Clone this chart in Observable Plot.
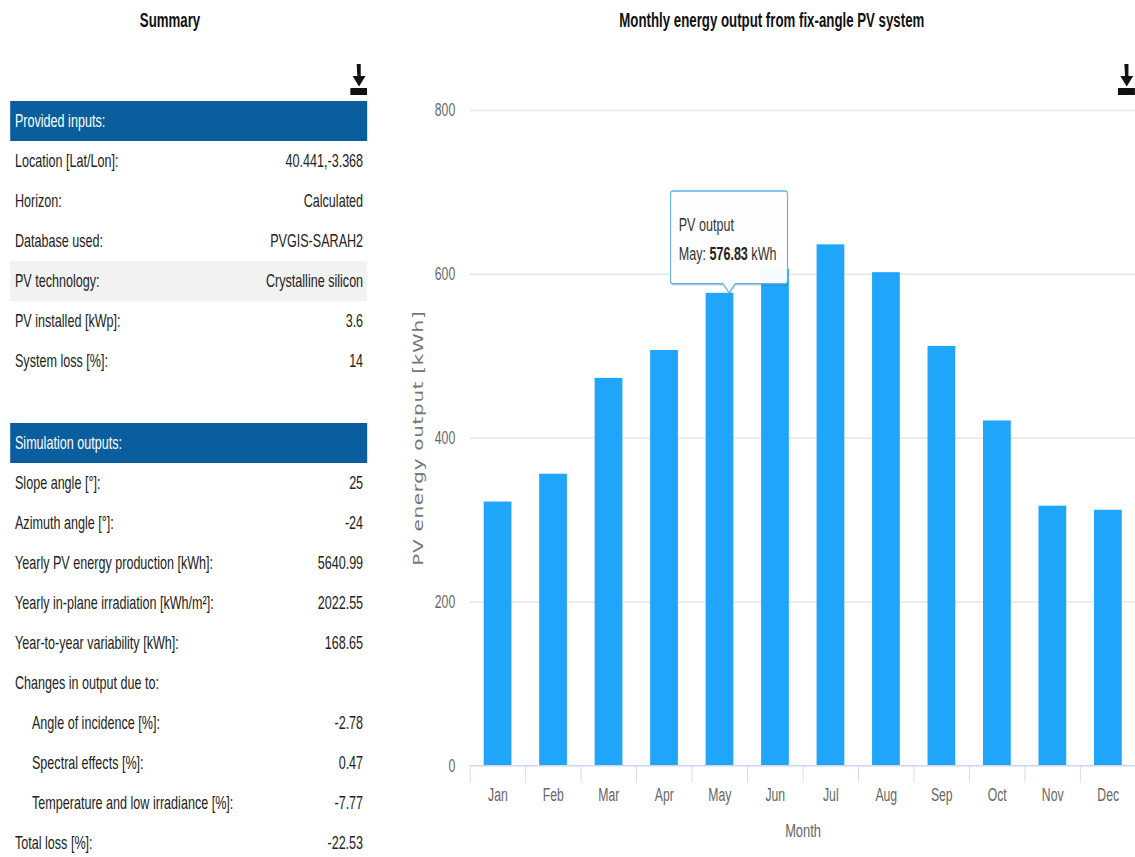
<!DOCTYPE html>
<html>
<head>
<meta charset="utf-8">
<script src="https://cdn.jsdelivr.net/npm/d3@7"></script>
<script src="https://cdn.jsdelivr.net/npm/@observablehq/plot@0.6"></script>
<style>
  html, body { margin: 0; padding: 0; background: #fff; overflow: hidden; }
  #outer { position: relative; width: 1135px; height: 857px; overflow: hidden; }
  #page { position: absolute; left: 0; top: 0; width: 1670px; height: 857px;
          transform: scaleX(0.68); transform-origin: 0 0;
          font-family: "Liberation Sans", Arial, sans-serif; color: #222; }
  .title { position: absolute; top: 9px; font-weight: bold; font-size: 19.5px; color: #111; text-align: center; }
  #summary { position: absolute; left: 15px; top: 101px; width: 525px; }
  .row { height: 40px; line-height: 40px; font-size: 18.5px; display: flex; justify-content: space-between;
         padding: 0 6px 0 7px; white-space: nowrap; }
  .row.head { background: #0a5e9e; color: #fff; }
  .row.shade { background: #f2f2f2; }
  .row.indent { padding-left: 32px; }
  .gap { height: 42px; }
  .icon { position: absolute; top: 62px; width: 25px; height: 34px; }
  #chart { position: absolute; left: 588px; top: 90px; }
</style>
</head>
<body>
<div id="outer"><div id="page">
  <div class="title" style="left:0;width:500px;">Summary</div>
  <div class="title" style="left:600px;width:1070px;">Monthly energy output from fix-angle PV system</div>
  <svg class="icon" style="left:515px" viewBox="0 0 25 34"><path d="M9.5 2h6v12h7l-9.5 10.5-9.5-10.5h7z" fill="#111"/><rect x="0" y="26" width="25" height="7" fill="#111"/></svg>
  <svg class="icon" style="left:1644px" viewBox="0 0 25 34"><path d="M9.5 2h6v12h7l-9.5 10.5-9.5-10.5h7z" fill="#111"/><rect x="0" y="26" width="25" height="7" fill="#111"/></svg>
  <div id="summary"></div>
  <div id="chart"></div>
</div></div>
<script>
// ---- Summary table data ----
const inputsHeader = "Provided inputs:";
const inputLabels = ["Location [Lat/Lon]:", "Horizon:", "Database used:", "PV technology:", "PV installed [kWp]:", "System loss [%]:"];
const inputValues = ["40.441,-3.368", "Calculated", "PVGIS-SARAH2", "Crystalline silicon", "3.6", "14"];
const outputsHeader = "Simulation outputs:";
const outputLabels = ["Slope angle [°]:", "Azimuth angle [°]:", "Yearly PV energy production [kWh]:",
  "Yearly in-plane irradiation [kWh/m²]:", "Year-to-year variability [kWh]:", "Changes in output due to:",
  "Angle of incidence [%]:", "Spectral effects [%]:", "Temperature and low irradiance [%]:", "Total loss [%]:"];
const outputValues = ["25", "-24", "5640.99", "2022.55", "168.65", "", "-2.78", "0.47", "-7.77", "-22.53"];
const outputIndented = [false, false, false, false, false, false, true, true, true, false];
const shadedInput = "PV technology:";

// ---- Chart data ----
const months = ["Jan", "Feb", "Mar", "Apr", "May", "Jun", "Jul", "Aug", "Sep", "Oct", "Nov", "Dec"];
const pvOutput = [322, 356, 473, 507, 576.83, 606, 636, 602, 512, 421, 317, 312];
const yTicks = [0, 200, 400, 600, 800];
const tipMonth = "May";
const tipSeries = "PV output";
const tipUnit = "kWh";

// ---- Build table ----
const summary = d3.select("#summary");
function addRow(label, value, cls) {
  const r = summary.append("div").attr("class", "row " + (cls || ""));
  r.append("span").text(label);
  r.append("span").text(value);
}
addRow(inputsHeader, "", "head");
inputLabels.forEach((l, i) => addRow(l, inputValues[i], l === shadedInput ? "shade" : ""));
summary.append("div").attr("class", "gap");
addRow(outputsHeader, "", "head");
outputLabels.forEach((l, i) => addRow(l, outputValues[i], outputIndented[i] ? "indent" : ""));

// ---- Build chart ----
const data = months.map((m, i) => ({index: i, month: m, value: pvOutput[i]}));
const bounds = d3.range(months.length + 1).map(i => i - 0.5);
const yLabel = "PV energy output [kWh]";

const chart = Plot.plot({
  width: 1083, height: 760,
  marginTop: 20, marginBottom: 84, marginLeft: 103, marginRight: 0,
  style: {fontFamily: '"Liberation Sans", Arial, sans-serif', overflow: "visible", background: "transparent"},
  x: {type: "linear", domain: [-0.5, months.length - 0.5]},
  y: {domain: [0, 800]},
  marks: [
    Plot.gridY({ticks: yTicks.slice(1), stroke: "#e6e6e6", strokeOpacity: 1, strokeWidth: 1.5}),
    Plot.rect(data, {x1: d => d.index - 0.25, x2: d => d.index + 0.25, y1: 0, y2: "value", fill: "#1fa5f9"}),
    Plot.ruleY([0], {stroke: "#ccd6eb", strokeWidth: 1.5}),
    Plot.axisX({ticks: bounds, tickSize: 17, tickFormat: () => "", stroke: "#ccd6eb", strokeOpacity: 1, label: null}),
    Plot.axisX({ticks: d3.range(months.length), tickFormat: i => months[i], tickSize: 0, tickPadding: 22,
                fontSize: 18, fill: "#666", label: "Month", labelAnchor: "center", labelOffset: 71, labelArrow: "none"}),
    Plot.axisY({ticks: yTicks, tickSize: 0, tickPadding: 22, fontSize: 18, fill: "#666", label: null}),
    Plot.axisY({ticks: [], label: yLabel, labelAnchor: "center", labelOffset: 84, labelArrow: "none",
                fontSize: 20, fontFamily: '"DejaVu Sans", sans-serif', fill: "#777"})
  ]
});
document.getElementById("chart").appendChild(chart);

// letter spacing on y label; size of Month label
d3.select(chart).selectAll("text").each(function() {
  if (this.textContent === yLabel) d3.select(this).attr("letter-spacing", "0.7");
  if (this.textContent === "Month") d3.select(this).attr("font-size", 19);
});

// ---- Tooltip callout at the hovered bar ----
const xs = chart.scale("x"), ys = chart.scale("y");
const ti = months.indexOf(tipMonth);
const tx = xs.apply(ti) + 14, ty = ys.apply(pvOutput[ti]);
const W = 172, H = 93, P = 9, hw = 9, r = 3;
const L = -W / 2, R = W / 2, T = -P - H, B = -P;
const g = d3.select(chart).append("g").attr("transform", `translate(${tx},${ty})`);
const pathD = `M${L + r},${T}H${R - r}Q${R},${T} ${R},${T + r}V${B - r}Q${R},${B} ${R - r},${B}H${hw}L0,0L${-hw},${B}H${L + r}Q${L},${B} ${L},${B - r}V${T + r}Q${L},${T} ${L + r},${T}Z`;
g.append("path").attr("d", pathD).attr("transform", "translate(1.5,2)").attr("fill", "rgba(0,0,0,0.12)");
g.append("path").attr("d", pathD).attr("fill", "rgba(255,255,255,0.96)").attr("stroke", "#5cb0ec").attr("stroke-width", 1.5);
const tt = g.append("g").attr("font-size", 18.5).attr("fill", "#333").attr("text-anchor", "start")
  .attr("font-family", '"Liberation Sans", Arial, sans-serif');
tt.append("text").attr("x", L + 12).attr("y", -62).text(tipSeries);
const line2 = tt.append("text").attr("x", L + 12).attr("y", -33);
line2.append("tspan").text(tipMonth + ": ");
line2.append("tspan").attr("font-weight", "bold").attr("fill", "#222").text(pvOutput[ti].toFixed(2));
line2.append("tspan").text(" " + tipUnit);
</script>
</body>
</html>
